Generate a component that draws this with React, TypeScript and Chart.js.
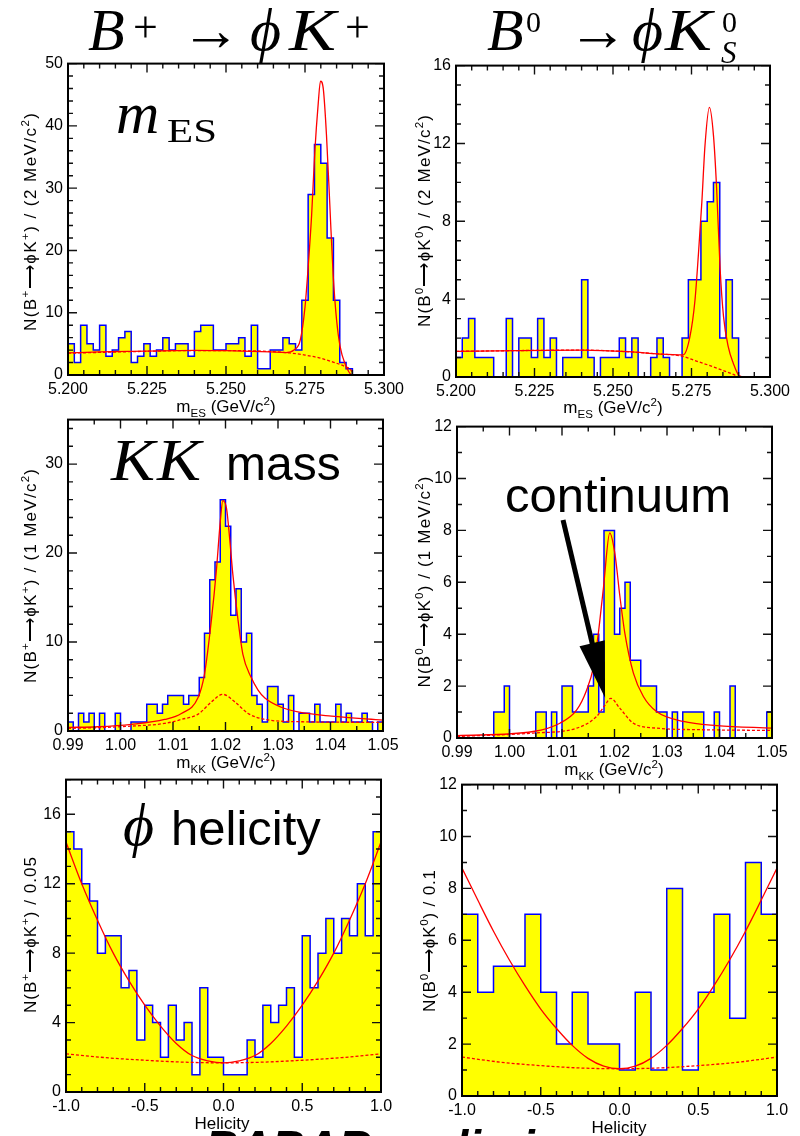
import React, { useEffect, useRef } from "react";
import { Chart, registerables } from "chart.js";
Chart.register(...registerables);

const SANS = "'Liberation Sans', Arial, Helvetica, sans-serif";
const SERIF = "'Liberation Serif', 'Times New Roman', 'DejaVu Serif', serif";
Chart.defaults.font.family = SANS;

// ---------------- Panel 1: B+ -> phi K+, mES ----------------
const P1_BINS = { lo: 5.2, hi: 5.3, n: 50 };
const P1_COUNTS = [5, 2, 8, 5, 4, 8, 3, 4, 6, 7, 2, 3, 5, 3, 4, 6, 4, 5, 5, 3, 7, 8, 8, 4, 4, 5, 5, 6, 3, 8, 1, 1, 4, 4, 6, 5, 4, 12, 29, 37, 34, 22, 12, 2, 1, 0, 0, 0, 0, 0];
const P1_FIT_X = [5.2, 5.21, 5.22, 5.23, 5.24, 5.25, 5.258, 5.264, 5.269, 5.2715, 5.2735, 5.275, 5.276, 5.2771, 5.2781, 5.2792, 5.2799, 5.2808, 5.2818, 5.2829, 5.2839, 5.285, 5.2861, 5.2876, 5.29, 5.3];
const P1_FIT_Y = [3.55, 3.7, 3.8, 3.88, 3.95, 3.9, 3.8, 3.7, 3.6, 4.0, 5.6, 10.9, 17.3, 25.7, 35.8, 43.7, 47.2, 45.9, 38.5, 26.8, 16.2, 8.8, 4.6, 1.9, 0, 0];
const P1_BKG_X = [5.2, 5.22, 5.24, 5.255, 5.265, 5.27, 5.275, 5.2795, 5.2834, 5.2876, 5.2898, 5.29, 5.3];
const P1_BKG_Y = [3.5, 3.75, 3.92, 3.9, 3.75, 3.55, 3.2, 2.75, 2.16, 1.37, 0.5, 0, 0];
const P1_XTICKS = [5.2, 5.225, 5.25, 5.275, 5.3];
const P1_XLABELS = ["5.200", "5.225", "5.250", "5.275", "5.300"];
const P1_YTICKS = [0, 10, 20, 30, 40, 50];
const P1_YLABELS = ["0", "10", "20", "30", "40", "50"];

// ---------------- Panel 2: B0 -> phi K0S, mES ----------------
const P2_BINS = { lo: 5.2, hi: 5.3, n: 50 };
const P2_COUNTS = [1, 2, 3, 1, 1, 1, 0, 0, 3, 0, 2, 2, 1, 3, 1, 2, 0, 1, 1, 1, 5, 1, 0, 1, 1, 1, 2, 1, 2, 0, 0, 1, 2, 1, 0, 0, 2, 5, 5, 8, 9, 10, 2, 5, 2, 0, 0, 0, 0, 0];
const P2_FIT_X = [5.2, 5.22, 5.24, 5.255, 5.265, 5.2724, 5.2745, 5.2761, 5.2772, 5.2783, 5.2793, 5.2807, 5.282, 5.283, 5.2841, 5.2852, 5.2867, 5.2883, 5.2901, 5.292, 5.3];
const P2_FIT_Y = [1.32, 1.36, 1.38, 1.3, 1.18, 1.14, 2.07, 3.93, 6.3, 9.0, 11.9, 13.85, 12.4, 9.7, 5.6, 3.1, 1.56, 0.71, 0.08, 0, 0];
const P2_BKG_X = [5.2, 5.24, 5.265, 5.272, 5.276, 5.2804, 5.285, 5.2885, 5.29, 5.3];
const P2_BKG_Y = [1.32, 1.38, 1.18, 1.07, 0.85, 0.61, 0.34, 0.12, 0, 0];
const P2_XTICKS = [5.2, 5.225, 5.25, 5.275, 5.3];
const P2_XLABELS = ["5.200", "5.225", "5.250", "5.275", "5.300"];
const P2_YTICKS = [0, 4, 8, 12, 16];
const P2_YLABELS = ["0", "4", "8", "12", "16"];

// ---------------- Panel 3: B+ KK mass ----------------
const P3_BINS = { lo: 0.99, hi: 1.05, n: 60 };
const P3_COUNTS = [1, 0, 2, 1, 2, 0, 2, 0, 0, 2, 0, 0, 1, 1, 1, 3, 3, 2, 3, 4, 4, 4, 3, 4, 4, 6, 11, 17, 19, 26, 23, 13, 16, 10, 11, 4, 3, 1, 5, 5, 3, 1, 4, 0, 2, 2, 1, 3, 1, 1, 1, 3, 1, 2, 1, 1, 2, 1, 0, 1];
const P3_FIT_X = [0.99, 0.9957, 1.0021, 1.0084, 1.0116, 1.0148, 1.016, 1.0173, 1.0183, 1.019, 1.0195, 1.0202, 1.0208, 1.0214, 1.0224, 1.0233, 1.0249, 1.0262, 1.0275, 1.0305, 1.0338, 1.0402, 1.05];
const P3_FIT_Y = [0.4, 0.48, 0.75, 1.3, 1.97, 3.8, 6.4, 12.4, 18.3, 23.5, 25.9, 25.0, 21.6, 17.6, 12.4, 8.65, 6.0, 4.6, 3.7, 2.7, 2.15, 1.67, 1.22];
const P3_BKG_X = [0.99, 0.9957, 1.0021, 1.0084, 1.0116, 1.0148, 1.0173, 1.0195, 1.0218, 1.0243, 1.0275, 1.0338, 1.05];
const P3_BKG_Y = [0.3, 0.37, 0.55, 0.85, 1.3, 1.9, 3.26, 4.12, 3.26, 1.97, 1.3, 1.05, 0.97];
const P3_XTICKS = [0.99, 1.0, 1.01, 1.02, 1.03, 1.04, 1.05];
const P3_XLABELS = ["0.99", "1.00", "1.01", "1.02", "1.03", "1.04", "1.05"];
const P3_YTICKS = [0, 10, 20, 30];
const P3_YLABELS = ["0", "10", "20", "30"];

// ---------------- Panel 4: B0 KK mass ----------------
const P4_BINS = { lo: 0.99, hi: 1.05, n: 60 };
const P4_COUNTS = [0, 0, 0, 0, 0, 0, 0, 1, 1, 2, 0, 0, 0, 0, 0, 1, 1, 0, 1, 0, 2, 2, 1, 1, 1, 2, 4, 1, 8, 8, 4, 5, 6, 3, 3, 2, 2, 2, 1, 1, 0, 1, 0, 1, 1, 1, 1, 0, 0, 1, 0, 0, 2, 0, 0, 0, 0, 0, 0, 1];
const P4_FIT_X = [0.99, 1.0045, 1.0096, 1.0128, 1.0147, 1.016, 1.0169, 1.0179, 1.0191, 1.0201, 1.021, 1.022, 1.0236, 1.0255, 1.028, 1.0331, 1.0395, 1.05];
const P4_FIT_Y = [0.09, 0.25, 0.57, 1.08, 1.85, 2.74, 4.0, 5.8, 7.9, 7.07, 5.5, 4.0, 2.5, 1.6, 1.02, 0.64, 0.48, 0.38];
const P4_BKG_X = [0.99, 1.0045, 1.0128, 1.0166, 1.0182, 1.0193, 1.021, 1.0236, 1.028, 1.0363, 1.05];
const P4_BKG_Y = [0.06, 0.19, 0.38, 0.83, 1.27, 1.53, 1.15, 0.57, 0.38, 0.32, 0.29];
const P4_XTICKS = [0.99, 1.0, 1.01, 1.02, 1.03, 1.04, 1.05];
const P4_XLABELS = ["0.99", "1.00", "1.01", "1.02", "1.03", "1.04", "1.05"];
const P4_YTICKS = [0, 2, 4, 6, 8, 10, 12];
const P4_YLABELS = ["0", "2", "4", "6", "8", "10", "12"];
const P4_ARROW_FROM = { x: 1.0102, y: 8.4 };
const P4_ARROW_TO = { x: 1.0182, y: 1.55 };

// ---------------- Panel 5: B+ helicity ----------------
const P5_BINS = { lo: -1, hi: 1, n: 40 };
const P5_COUNTS = [15, 14, 12, 11, 8, 9, 9, 6, 7, 3, 5, 4, 2, 5, 3, 4, 1, 6, 2, 2, 1, 1, 1, 3, 2, 5, 4, 5, 6, 2, 9, 6, 8, 10, 8, 10, 9, 12, 9, 15];
const P5_FIT_X = [-1, -0.9, -0.8, -0.7, -0.6, -0.5, -0.4, -0.3, -0.2, -0.1, 0, 0.1, 0.2, 0.3, 0.4, 0.5, 0.6, 0.7, 0.8, 0.9, 1];
const P5_FIT_Y = [14.4, 12.0, 9.9, 8.0, 6.4, 5.0, 3.8, 2.8, 2.1, 1.8, 1.68, 1.8, 2.1, 2.8, 3.8, 5.0, 6.4, 8.0, 9.9, 12.0, 14.4];
const P5_BKG_X = [-1, -0.75, -0.5, -0.25, 0, 0.25, 0.5, 0.75, 1];
const P5_BKG_Y = [2.2, 1.98, 1.83, 1.72, 1.68, 1.72, 1.83, 1.98, 2.2];
const P5_XTICKS = [-1, -0.5, 0, 0.5, 1];
const P5_XLABELS = ["-1.0", "-0.5", "0.0", "0.5", "1.0"];
const P5_YTICKS = [0, 4, 8, 12, 16];
const P5_YLABELS = ["0", "4", "8", "12", "16"];

// ---------------- Panel 6: B0 helicity ----------------
const P6_BINS = { lo: -1, hi: 1, n: 20 };
const P6_COUNTS = [7, 4, 5, 5, 7, 4, 2, 4, 2, 2, 1, 4, 1, 8, 1, 4, 7, 3, 9, 7];
const P6_FIT_X = [-1, -0.9, -0.8, -0.7, -0.6, -0.5, -0.4, -0.3, -0.2, -0.1, 0, 0.1, 0.2, 0.3, 0.4, 0.5, 0.6, 0.7, 0.8, 0.9, 1];
const P6_FIT_Y = [8.78, 7.55, 6.35, 5.25, 4.25, 3.35, 2.6, 1.95, 1.45, 1.15, 1.05, 1.15, 1.45, 1.95, 2.6, 3.35, 4.25, 5.25, 6.35, 7.55, 8.78];
const P6_BKG_X = [-1, -0.75, -0.5, -0.25, 0, 0.25, 0.5, 0.75, 1];
const P6_BKG_Y = [1.5, 1.3, 1.17, 1.08, 1.05, 1.08, 1.17, 1.3, 1.5];
const P6_XTICKS = [-1, -0.5, 0, 0.5, 1];
const P6_XLABELS = ["-1.0", "-0.5", "0.0", "0.5", "1.0"];
const P6_YTICKS = [0, 2, 4, 6, 8, 10, 12];
const P6_YLABELS = ["0", "2", "4", "6", "8", "10", "12"];

// ---------------- Layout / styling ----------------
const FILL = "#ffff00";
const HIST_LINE = "#0000ff";
const FIT_RED = "#ff0000";
const PAD_L = 60, PAD_T = 12, PAD_R = 26, PAD_B = 30;

type Box = { left: number; top: number; width: number; height: number };
type Spec = {
  box: Box;
  bins: { lo: number; hi: number; n: number };
  counts: number[];
  fitX: number[]; fitY: number[];
  bkgX: number[]; bkgY: number[];
  xTicks: number[]; xLabels: string[];
  yTicks: number[]; yLabels: string[];
  yMax: number;
  xMinor: number; xMajor: number; yMinor: number; yMajor: number;
  arrow?: { from: { x: number; y: number }; to: { x: number; y: number } };
};

const SPECS: Spec[] = [
  { box: { left: 68, top: 61, width: 316, height: 314 }, bins: P1_BINS, counts: P1_COUNTS, fitX: P1_FIT_X, fitY: P1_FIT_Y, bkgX: P1_BKG_X, bkgY: P1_BKG_Y, xTicks: P1_XTICKS, xLabels: P1_XLABELS, yTicks: P1_YTICKS, yLabels: P1_YLABELS, yMax: 50, xMinor: 0.005, xMajor: 0.025, yMinor: 2, yMajor: 10 },
  { box: { left: 456, top: 63, width: 314, height: 314 }, bins: P2_BINS, counts: P2_COUNTS, fitX: P2_FIT_X, fitY: P2_FIT_Y, bkgX: P2_BKG_X, bkgY: P2_BKG_Y, xTicks: P2_XTICKS, xLabels: P2_XLABELS, yTicks: P2_YTICKS, yLabels: P2_YLABELS, yMax: 16, xMinor: 0.005, xMajor: 0.025, yMinor: 1, yMajor: 4 },
  { box: { left: 68, top: 417, width: 315, height: 314 }, bins: P3_BINS, counts: P3_COUNTS, fitX: P3_FIT_X, fitY: P3_FIT_Y, bkgX: P3_BKG_X, bkgY: P3_BKG_Y, xTicks: P3_XTICKS, xLabels: P3_XLABELS, yTicks: P3_YTICKS, yLabels: P3_YLABELS, yMax: 35, xMinor: 0.005, xMajor: 0.01, yMinor: 2, yMajor: 10 },
  { box: { left: 457, top: 424, width: 315, height: 314 }, bins: P4_BINS, counts: P4_COUNTS, fitX: P4_FIT_X, fitY: P4_FIT_Y, bkgX: P4_BKG_X, bkgY: P4_BKG_Y, xTicks: P4_XTICKS, xLabels: P4_XLABELS, yTicks: P4_YTICKS, yLabels: P4_YLABELS, yMax: 12, xMinor: 0.005, xMajor: 0.01, yMinor: 1, yMajor: 2, arrow: { from: P4_ARROW_FROM, to: P4_ARROW_TO } },
  { box: { left: 66, top: 777, width: 315, height: 315 }, bins: P5_BINS, counts: P5_COUNTS, fitX: P5_FIT_X, fitY: P5_FIT_Y, bkgX: P5_BKG_X, bkgY: P5_BKG_Y, xTicks: P5_XTICKS, xLabels: P5_XLABELS, yTicks: P5_YTICKS, yLabels: P5_YLABELS, yMax: 18, xMinor: 0.1, xMajor: 0.5, yMinor: 1, yMajor: 4 },
  { box: { left: 462, top: 782, width: 315, height: 314 }, bins: P6_BINS, counts: P6_COUNTS, fitX: P6_FIT_X, fitY: P6_FIT_Y, bkgX: P6_BKG_X, bkgY: P6_BKG_Y, xTicks: P6_XTICKS, xLabels: P6_XLABELS, yTicks: P6_YTICKS, yLabels: P6_YLABELS, yMax: 12, xMinor: 0.1, xMajor: 0.5, yMinor: 1, yMajor: 2 },
];

// ROOT-like frame with inward ticks on all four sides, plus optional arrow
const rootFrame = {
  id: "rootFrame",
  afterDatasetsDraw(chart: any, _args: any, opts: any) {
    const { ctx, chartArea: a, scales } = chart;
    const xs = scales.x, ys = scales.y;
    ctx.save();
    if (opts.arrow) {
      const x0 = xs.getPixelForValue(opts.arrow.from.x), y0 = ys.getPixelForValue(opts.arrow.from.y);
      const x1 = xs.getPixelForValue(opts.arrow.to.x), y1 = ys.getPixelForValue(opts.arrow.to.y);
      const dx = x1 - x0, dy = y1 - y0, L = Math.hypot(dx, dy), ux = dx / L, uy = dy / L;
      const head = 56, half = 13;
      const bx = x1 - ux * head, by = y1 - uy * head;
      ctx.strokeStyle = "#000"; ctx.fillStyle = "#000"; ctx.lineWidth = 5;
      ctx.beginPath(); ctx.moveTo(x0, y0); ctx.lineTo(bx + ux * 4, by + uy * 4); ctx.stroke();
      ctx.beginPath(); ctx.moveTo(x1, y1);
      ctx.lineTo(bx - uy * half, by + ux * half);
      ctx.lineTo(bx + uy * half, by - ux * half);
      ctx.closePath(); ctx.fill();
    }
    ctx.strokeStyle = "#111"; ctx.lineWidth = 1.4;
    const majL = 9, minL = 5;
    const eps = 1e-9;
    const nx = Math.floor((xs.max - xs.min) / opts.xMinor + eps);
    const rx = Math.round(opts.xMajor / opts.xMinor);
    ctx.beginPath();
    for (let i = 0; i <= nx; i++) {
      const px = xs.getPixelForValue(xs.min + i * opts.xMinor);
      const l = i % rx === 0 ? majL : minL;
      ctx.moveTo(px, a.bottom); ctx.lineTo(px, a.bottom - l);
      ctx.moveTo(px, a.top); ctx.lineTo(px, a.top + l);
    }
    const ny = Math.floor((ys.max - ys.min) / opts.yMinor + eps);
    const ry = Math.round(opts.yMajor / opts.yMinor);
    for (let i = 0; i <= ny; i++) {
      const py = ys.getPixelForValue(ys.min + i * opts.yMinor);
      const l = i % ry === 0 ? majL : minL;
      ctx.moveTo(a.left, py); ctx.lineTo(a.left + l, py);
      ctx.moveTo(a.right, py); ctx.lineTo(a.right - l, py);
    }
    ctx.stroke();
    ctx.strokeStyle = "#000"; ctx.lineWidth = 2;
    ctx.strokeRect(a.left, a.top, a.right - a.left, a.bottom - a.top);
    ctx.restore();
  },
};

function HistPanel({ spec }: { spec: Spec }) {
  const ref = useRef<HTMLCanvasElement>(null);
  const w = spec.box.width + PAD_L + PAD_R;
  const h = spec.box.height + PAD_T + PAD_B;
  useEffect(() => {
    const { lo, hi, n } = spec.bins;
    const bw = (hi - lo) / n;
    const hist = spec.counts.map((c, i) => ({ x: lo + i * bw, y: c }));
    hist.push({ x: hi, y: spec.counts[spec.counts.length - 1] });
    const fit = spec.fitX.map((x, i) => ({ x, y: spec.fitY[i] }));
    const bkg = spec.bkgX.map((x, i) => ({ x, y: spec.bkgY[i] }));
    const chart = new Chart(ref.current as HTMLCanvasElement, {
      type: "line",
      data: {
        datasets: [
          { data: fit, borderColor: FIT_RED, borderWidth: 1.3, pointRadius: 0, fill: false, tension: 0.4, cubicInterpolationMode: "monotone", order: 1 },
          { data: bkg, borderColor: FIT_RED, borderWidth: 1.3, borderDash: [3, 2], pointRadius: 0, fill: false, tension: 0.4, cubicInterpolationMode: "monotone", order: 2 },
          { data: hist, borderColor: HIST_LINE, backgroundColor: FILL, borderWidth: 1.5, pointRadius: 0, stepped: "before", fill: "origin", order: 3 },
        ] as any,
      },
      options: {
        responsive: false,
        maintainAspectRatio: false,
        animation: false,
        devicePixelRatio: 1,
        events: [],
        parsing: false as any,
        layout: { padding: { left: 0, top: PAD_T, right: PAD_R, bottom: 0 } },
        plugins: {
          legend: { display: false },
          tooltip: { enabled: false },
          rootFrame: { xMinor: spec.xMinor, xMajor: spec.xMajor, yMinor: spec.yMinor, yMajor: spec.yMajor, arrow: spec.arrow } as any,
        } as any,
        scales: {
          x: {
            type: "linear", min: lo, max: hi,
            afterBuildTicks: (s: any) => { s.ticks = spec.xTicks.map((v) => ({ value: v })); },
            afterFit: (s: any) => { s.height = PAD_B; },
            ticks: { callback: (_v: any, i: number) => spec.xLabels[i], color: "#000", font: { size: 16, family: SANS }, padding: 5, maxRotation: 0, autoSkip: false },
            grid: { display: false, drawTicks: false },
            border: { display: false },
          },
          y: {
            type: "linear", min: 0, max: spec.yMax,
            afterBuildTicks: (s: any) => { s.ticks = spec.yTicks.map((v) => ({ value: v })); },
            afterFit: (s: any) => { s.width = PAD_L; },
            ticks: { callback: (_v: any, i: number) => spec.yLabels[i], color: "#000", font: { size: 16, family: SANS }, padding: 5, autoSkip: false },
            grid: { display: false, drawTicks: false },
            border: { display: false },
          },
        } as any,
      },
      plugins: [rootFrame],
    });
    return () => chart.destroy();
  }, []);
  return (
    <canvas
      ref={ref}
      width={w}
      height={h}
      style={{ position: "absolute", left: spec.box.left - PAD_L, top: spec.box.top - PAD_T, width: w, height: h }}
    />
  );
}

type Seg = { t: string; s?: "sup" | "sub" };
function Rich({ segs, size }: { segs: Seg[]; size: number }) {
  let cur = 0;
  return (
    <>
      {segs.map((g, i) => {
        const target = g.s === "sup" ? -0.42 * size : g.s === "sub" ? 0.3 * size : 0;
        const dy = target - cur;
        cur = target;
        return (
          <tspan key={i} dy={dy} fontSize={g.s ? size * 0.68 : size}>
            {g.t}
          </tspan>
        );
      })}
    </>
  );
}

const Y_TITLES: { x: number; y: number; len: number; segs: Seg[] }[] = [
  { x: 36, y: 222, len: 218, segs: [{ t: "N(B" }, { t: "+", s: "sup" }, { t: "⟶ϕK" }, { t: "+", s: "sup" }, { t: ") / (2 MeV/c" }, { t: "2", s: "sup" }, { t: ")" }] },
  { x: 430, y: 221, len: 212, segs: [{ t: "N(B" }, { t: "0", s: "sup" }, { t: "⟶ϕK" }, { t: "0", s: "sup" }, { t: ") / (2 MeV/c" }, { t: "2", s: "sup" }, { t: ")" }] },
  { x: 36, y: 576, len: 214, segs: [{ t: "N(B" }, { t: "+", s: "sup" }, { t: "⟶ϕK" }, { t: "+", s: "sup" }, { t: ") / (1 MeV/c" }, { t: "2", s: "sup" }, { t: ")" }] },
  { x: 430, y: 582, len: 211, segs: [{ t: "N(B" }, { t: "0", s: "sup" }, { t: "⟶ϕK" }, { t: "0", s: "sup" }, { t: ") / (1 MeV/c" }, { t: "2", s: "sup" }, { t: ")" }] },
  { x: 36, y: 935, len: 156, segs: [{ t: "N(B" }, { t: "+", s: "sup" }, { t: "⟶ϕK" }, { t: "+", s: "sup" }, { t: ") / 0.05" }] },
  { x: 435, y: 941, len: 142, segs: [{ t: "N(B" }, { t: "0", s: "sup" }, { t: "⟶ϕK" }, { t: "0", s: "sup" }, { t: ") / 0.1" }] },
];

const X_TITLES: { x: number; y: number; segs: Seg[] }[] = [
  { x: 226, y: 412, segs: [{ t: "m" }, { t: "ES", s: "sub" }, { t: " (GeV/c" }, { t: "2", s: "sup" }, { t: ")" }] },
  { x: 613, y: 413, segs: [{ t: "m" }, { t: "ES", s: "sub" }, { t: " (GeV/c" }, { t: "2", s: "sup" }, { t: ")" }] },
  { x: 226, y: 768, segs: [{ t: "m" }, { t: "KK", s: "sub" }, { t: " (GeV/c" }, { t: "2", s: "sup" }, { t: ")" }] },
  { x: 614, y: 775, segs: [{ t: "m" }, { t: "KK", s: "sub" }, { t: " (GeV/c" }, { t: "2", s: "sup" }, { t: ")" }] },
  { x: 222, y: 1129, segs: [{ t: "Helicity" }] },
  { x: 619, y: 1133, segs: [{ t: "Helicity" }] },
];

function Overlay() {
  const pre = { whiteSpace: "pre" as const };
  return (
    <svg width={800} height={1136} style={{ position: "absolute", left: 0, top: 0, pointerEvents: "none" }}>
      {/* Titles */}
      <g fontFamily={SERIF} fill="#000" style={pre}>
        <text x={88} y={50} fontSize={60} fontStyle="italic">B</text>
        <text x={133} y={42} fontSize={44}>+</text>
        <text x={181} y={50} fontSize={60}>→</text>
        <text x={250} y={50} fontSize={60} fontStyle="italic">ϕ</text>
        <text x={289} y={50} fontSize={60} fontStyle="italic" textLength={47} lengthAdjust="spacingAndGlyphs">K</text>
        <text x={345} y={42} fontSize={44}>+</text>

        <text x={487} y={50} fontSize={60} fontStyle="italic">B</text>
        <text x={526} y={32} fontSize={30}>0</text>
        <text x={568} y={50} fontSize={60}>→</text>
        <text x={632} y={50} fontSize={60} fontStyle="italic">ϕ</text>
        <text x={665} y={50} fontSize={60} fontStyle="italic" textLength={47} lengthAdjust="spacingAndGlyphs">K</text>
        <text x={722} y={32} fontSize={30}>0</text>
        <text x={721} y={63} fontSize={31} fontStyle="italic">S</text>

        <text x={116} y={133} fontSize={60} fontStyle="italic">m</text>
        <text x={167} y={142} fontSize={34} textLength={50} lengthAdjust="spacingAndGlyphs">ES</text>

        <text x={111} y={480} fontSize={60} fontStyle="italic" textLength={44} lengthAdjust="spacingAndGlyphs">K</text>
        <text x={157} y={480} fontSize={60} fontStyle="italic" textLength={44} lengthAdjust="spacingAndGlyphs">K</text>

        <text x={123} y={845} fontSize={60} fontStyle="italic">ϕ</text>
      </g>
      <g fontFamily={SANS} fill="#000" style={pre}>
        <text x={226} y={480} fontSize={48}>mass</text>
        <text x={505} y={512} fontSize={49}>continuum</text>
        <text x={171} y={845} fontSize={49}>helicity</text>
      </g>
      {/* Axis titles */}
      <g fontFamily={SANS} fill="#000" style={pre}>
        {Y_TITLES.map((t, i) => (
          <text key={"y" + i} transform={`translate(${t.x},${t.y}) rotate(-90)`} textAnchor="middle" fontSize={17} textLength={t.len} lengthAdjust="spacing">
            <Rich segs={t.segs} size={17} />
          </text>
        ))}
        {X_TITLES.map((t, i) => (
          <text key={"x" + i} x={t.x} y={t.y} textAnchor="middle" fontSize={17}>
            <Rich segs={t.segs} size={17} />
          </text>
        ))}
      </g>
      <text x={205} y={1163} fontFamily={SANS} fontSize={46} fontWeight="bold" fontStyle="italic" fill="#000" style={pre}>BABAR preliminary</text>
    </svg>
  );
}

export default function App() {
  return (
    <div style={{ position: "absolute", left: 0, top: 0, width: 800, height: 1136, overflow: "hidden", background: "#fff" }}>
      {SPECS.map((s, i) => (
        <HistPanel key={i} spec={s} />
      ))}
      <Overlay />
    </div>
  );
}
